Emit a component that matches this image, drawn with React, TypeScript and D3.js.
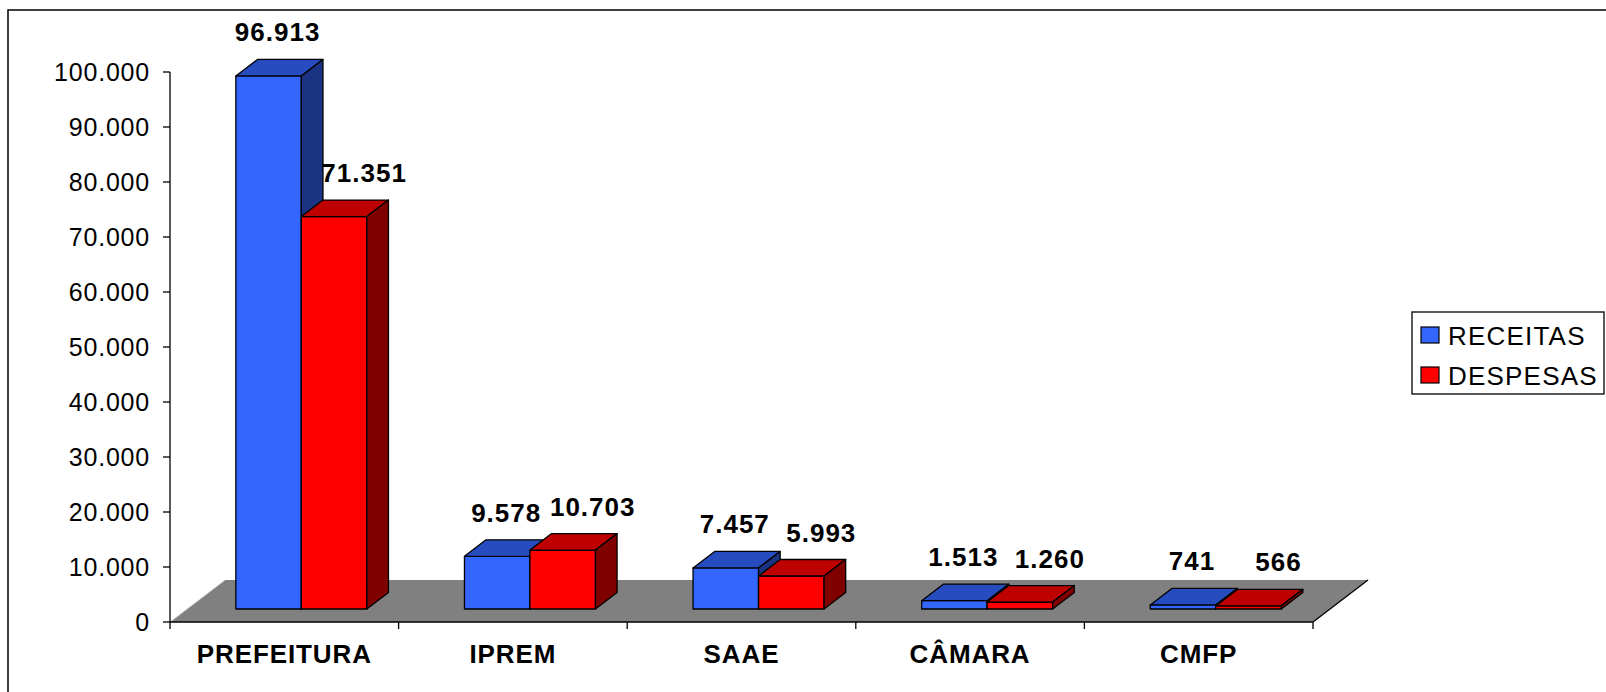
import React from 'react';
import * as d3 from 'd3';

const categories = ['PREFEITURA', 'IPREM', 'SAAE', 'CÂMARA', 'CMFP'];
const seriesNames = ['RECEITAS', 'DESPESAS'];
const receitas = [96913, 9578, 7457, 1513, 741];
const despesas = [71351, 10703, 5993, 1260, 566];
const yTicks = [0, 10000, 20000, 30000, 40000, 50000, 60000, 70000, 80000, 90000, 100000];

const W = 1606;
const H = 692;
const axisX = 170;
const plotRight = 1313;
const yBase = 622;
const yTopPx = 72;
const floorDx = 55;
const floorDy = -42;
const barFrontFrac = 0.31;
const barDepthFrac = 0.393;

const colors = [
  { front: '#3366FF', top: '#264CC0', side: '#1A3382' },
  { front: '#FF0000', top: '#BF0000', side: '#800000' },
];
const labelDx = [9, 30];

const fmt = (v: number) => d3.format(',')(v).replace(/,/g, '.');
const FONT = '"Liberation Sans", Arial, sans-serif';

export default function App() {
  const x = d3.scaleBand<string>().domain(categories).range([axisX, plotRight]);
  const xs = d3
    .scaleBand<string>()
    .domain(seriesNames)
    .range([0, x.bandwidth()])
    .paddingInner(0)
    .paddingOuter(0.745);
  const y = d3.scaleLinear().domain([0, 100000]).range([yBase, yTopPx]);

  const ox = floorDx * barFrontFrac;
  const oy = floorDy * barFrontFrac;
  const bdx = floorDx * barDepthFrac;
  const bdy = floorDy * barDepthFrac;
  const w = xs.bandwidth();
  const data = [receitas, despesas];

  const pts = (arr: number[][]) => arr.map((p) => p.join(',')).join(' ');

  const bars: React.ReactNode[] = [];
  const labels: React.ReactNode[] = [];
  categories.forEach((c, ci) => {
    seriesNames.forEach((s, si) => {
      const v = data[si][ci];
      const x0 = (x(c) as number) + (xs(s) as number) + ox;
      const x1 = x0 + w;
      const yb = y(0) + oy;
      const yt = y(v) + oy;
      const col = colors[si];
      bars.push(
        <g key={`${c}-${s}`} stroke="#000" strokeWidth={1.3} strokeLinejoin="round">
          <polygon points={pts([[x0, yt], [x1, yt], [x1, yb], [x0, yb]])} fill={col.front} />
          <polygon
            points={pts([[x0, yt], [x1, yt], [x1 + bdx, yt + bdy], [x0 + bdx, yt + bdy]])}
            fill={col.top}
          />
          <polygon
            points={pts([[x1, yt], [x1 + bdx, yt + bdy], [x1 + bdx, yb + bdy], [x1, yb]])}
            fill={col.side}
          />
        </g>
      );
      labels.push(
        <text
          key={`l-${c}-${s}`}
          x={(x0 + x1) / 2 + labelDx[si]}
          y={yt + bdy - 18}
          textAnchor="middle"
          fontFamily={FONT}
          fontWeight="bold"
          fontSize={26}
          letterSpacing={1}
          fill="#000"
        >
          {fmt(v)}
        </text>
      );
    });
  });

  const floor = [
    [axisX, yBase],
    [axisX + floorDx, yBase + floorDy],
    [plotRight + floorDx, yBase + floorDy],
    [plotRight, yBase],
  ];

  return (
    <svg
      width={W}
      height={H}
      style={{ position: 'absolute', left: 0, top: 0, background: '#fff' }}
    >
      <rect x={0} y={0} width={W} height={H} fill="#fff" />
      <rect x={8} y={10} width={1660} height={760} fill="none" stroke="#000" strokeWidth={1.5} />

      {/* floor */}
      <polygon points={pts(floor)} fill="#808080" stroke="none" />
      <line
        x1={axisX}
        y1={yBase}
        x2={axisX + floorDx}
        y2={yBase + floorDy}
        stroke="#d8d8d8"
        strokeWidth={1}
      />
      <line
        x1={plotRight}
        y1={yBase}
        x2={plotRight + floorDx}
        y2={yBase + floorDy}
        stroke="#000"
        strokeWidth={1.3}
      />

      {/* value axis */}
      <line x1={axisX} y1={yTopPx} x2={axisX} y2={yBase + 7} stroke="#000" strokeWidth={1.3} />
      {yTicks.map((t) => (
        <g key={t}>
          <line x1={axisX - 7} y1={y(t)} x2={axisX} y2={y(t)} stroke="#000" strokeWidth={1.3} />
          <text
            x={axisX - 20}
            y={y(t) + 9}
            textAnchor="end"
            fontFamily={FONT}
            fontSize={25}
            letterSpacing={0.8}
            fill="#000"
          >
            {fmt(t)}
          </text>
        </g>
      ))}

      {/* category axis */}
      <line x1={axisX} y1={yBase} x2={plotRight} y2={yBase} stroke="#000" strokeWidth={1.3} />
      {categories.map((c) => (
        <line
          key={`t-${c}`}
          x1={(x(c) as number) + x.bandwidth()}
          y1={yBase}
          x2={(x(c) as number) + x.bandwidth()}
          y2={yBase + 7}
          stroke="#000"
          strokeWidth={1.3}
        />
      ))}
      {categories.map((c) => (
        <text
          key={`c-${c}`}
          x={(x(c) as number) + x.bandwidth() / 2}
          y={663}
          textAnchor="middle"
          fontFamily={FONT}
          fontWeight="bold"
          fontSize={26}
          letterSpacing={0.9}
          fill="#000"
        >
          {c}
        </text>
      ))}

      {bars}
      {labels}

      {/* legend */}
      <rect x={1412} y={312} width={192} height={82} fill="#fff" stroke="#000" strokeWidth={1.3} />
      {seriesNames.map((s, i) => (
        <g key={`lg-${s}`}>
          <rect
            x={1421}
            y={327 + i * 40}
            width={18}
            height={16}
            fill={colors[i].front}
            stroke="#000"
            strokeWidth={1.2}
          />
          <text
            x={1448}
            y={345 + i * 40}
            fontFamily={FONT}
            fontSize={26}
            letterSpacing={1.2}
            fill="#000"
          >
            {s}
          </text>
        </g>
      ))}
    </svg>
  );
}
